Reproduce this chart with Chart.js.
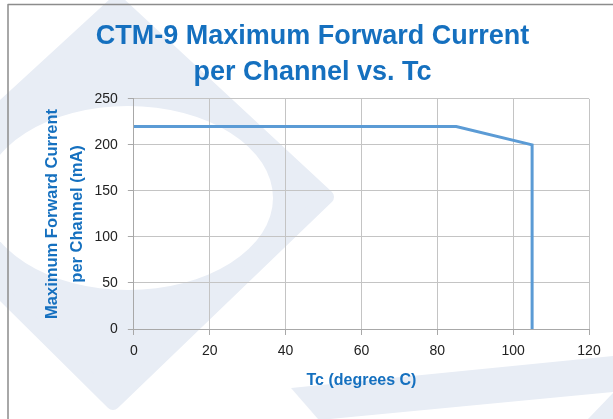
<!DOCTYPE html>
<html lang="en">
<head>
    <meta charset="UTF-8">
    <title>CTM-9 Maximum Forward Current per Channel vs. Tc</title>
    <script src="https://cdn.jsdelivr.net/npm/chart.js"></script>
    <style>
        body { margin: 0; background: #fff; }
        #wrap { position: relative; width: 613px; height: 419px; }
    </style>
</head>
<body>
<div id="wrap"><canvas id="ctmChart" width="613" height="419"></canvas></div>
<script>
// data
const tempC = [0, 85, 105, 105];
const currentMA = [220, 220, 200, 0];
const xTicks = [0, 20, 40, 60, 80, 100, 120];
const yTicks = [0, 50, 100, 150, 200, 250];

const blue = "#1570BF";
const font = "'Liberation Sans', Arial, sans-serif";

// faint logo watermark + frame behind the chart
const backdrop = {
    id: "backdrop",
    beforeDraw(chart) {
        const c = chart.ctx;
        c.save();
        c.fillStyle = "#fff";
        c.fillRect(0, 0, chart.width, chart.height);
        c.fillStyle = "#E8EDF5";
        c.lineJoin = "round";
        // rounded diamond
        c.beginPath();
        c.moveTo(117, 2); c.lineTo(327, 197); c.lineTo(113, 403); c.lineTo(-95, 197);
        c.closePath();
        c.fill();
        c.strokeStyle = "#E8EDF5"; c.lineWidth = 14; c.stroke();
        // white hole
        c.fillStyle = "#fff";
        c.beginPath();
        c.ellipse(128, 198, 145, 92, 0, 0, Math.PI * 2);
        c.fill();
        // bottom swoosh
        c.fillStyle = "#E8EDF5";
        c.beginPath();
        c.moveTo(291, 388); c.lineTo(613, 356); c.lineTo(613, 392); c.lineTo(330, 419); c.lineTo(318, 419);
        c.closePath(); c.fill();
        c.beginPath();
        c.moveTo(588, 419); c.lineTo(613, 393); c.lineTo(613, 419);
        c.closePath(); c.fill();
        // frame
        c.strokeStyle = "#8c8c8c";
        c.lineWidth = 1.5;
        c.beginPath();
        c.moveTo(8, 419); c.lineTo(8, 4.5); c.lineTo(613, 4.5);
        c.stroke();
        c.restore();
    }
};

new Chart(document.getElementById("ctmChart"), {
    type: "scatter",
    data: {
        datasets: [{
            data: tempC.map((t, i) => ({ x: t, y: currentMA[i] })),
            showLine: true,
            borderColor: "#5B9BD5",
            borderWidth: 3,
            pointRadius: 0,
            tension: 0
        }]
    },
    options: {
        responsive: false,
        animation: false,
        layout: { padding: { left: 36, right: 24, top: 0, bottom: 29 } },
        plugins: {
            legend: { display: false },
            tooltip: { enabled: false },
            title: {
                display: true,
                text: ["CTM-9 Maximum Forward Current", "per Channel vs. Tc"],
                color: blue,
                font: { family: font, size: 27, weight: "bold", lineHeight: 1.33 },
                padding: { top: 19, bottom: 8 }
            }
        },
        scales: {
            x: {
                type: "linear",
                min: 0, max: 120,
                afterBuildTicks: s => { s.ticks = xTicks.map(v => ({ value: v })); },
                grid: { color: "#C4C4C4", tickLength: 6, tickColor: "#A8A8A8" },
                border: { color: "#A8A8A8" },
                ticks: { color: "#222", font: { family: font, size: 14 }, padding: 8 },
                title: {
                    display: true, text: "Tc (degrees C)", color: blue,
                    font: { family: font, size: 16, weight: "bold" }, padding: { top: 3, bottom: 0 }
                }
            },
            y: {
                min: 0, max: 250,
                afterBuildTicks: s => { s.ticks = yTicks.map(v => ({ value: v })); },
                grid: { color: "#C4C4C4", tickLength: 6, tickColor: "#A8A8A8" },
                border: { color: "#A8A8A8" },
                ticks: { color: "#222", font: { family: font, size: 14 }, padding: 10 },
                title: {
                    display: true, text: ["Maximum Forward Current", "per Channel (mA)"], color: blue,
                    font: { family: font, size: 16.5, weight: "bold", lineHeight: 1.5 },
                    padding: { top: 4, bottom: -5 }
                }
            }
        }
    },
    plugins: [backdrop]
});
</script>
</body>
</html>
